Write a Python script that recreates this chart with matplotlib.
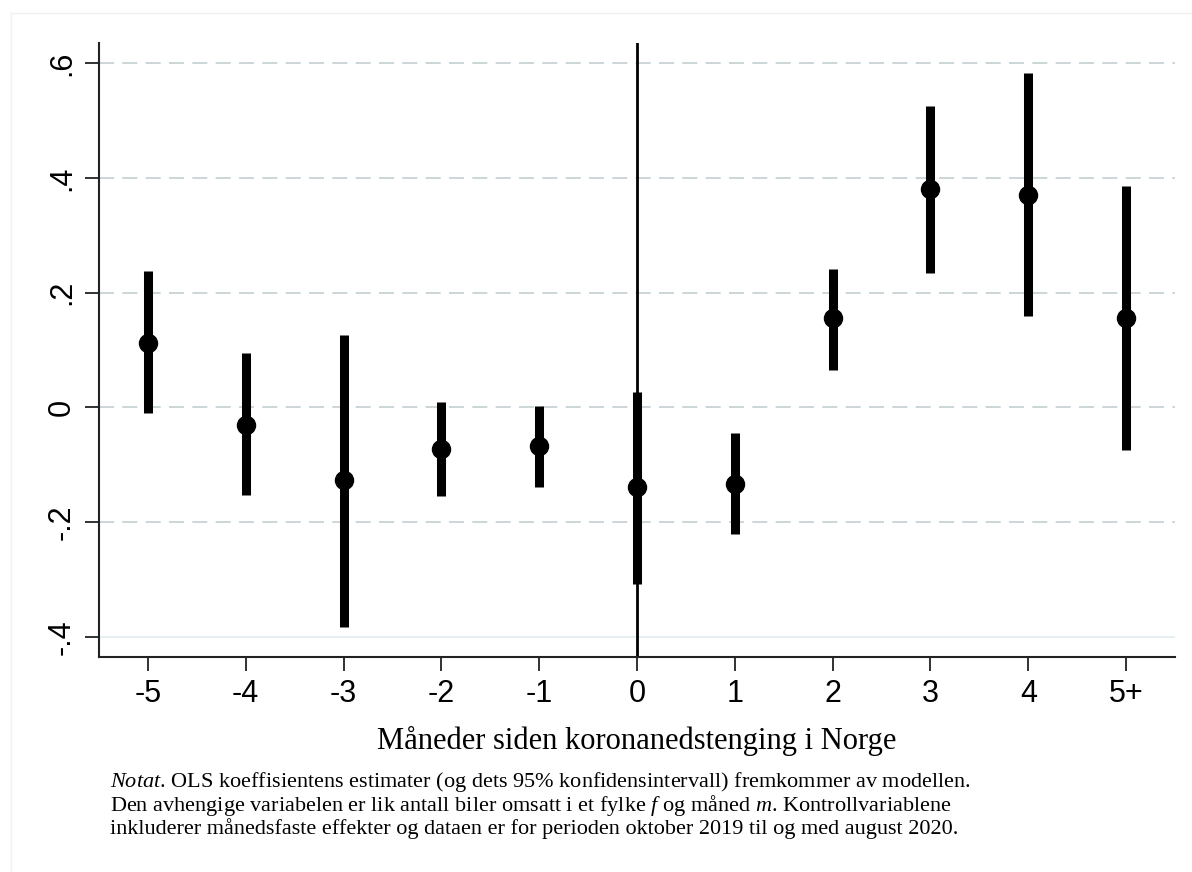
import matplotlib
matplotlib.use("Agg")
import matplotlib.pyplot as plt
from matplotlib.lines import Line2D
import numpy as np

# Data
months = ["-5", "-4", "-3", "-2", "-1", "0", "1", "2", "3", "4", "5+"]
estimate = [0.113, -0.030, -0.127, -0.073, -0.068, -0.139, -0.134, 0.155, 0.380, 0.370, 0.156]
ci_low = [-0.009, -0.153, -0.382, -0.155, -0.139, -0.307, -0.221, 0.066, 0.235, 0.159, -0.075]
ci_high = [0.238, 0.094, 0.127, 0.009, 0.002, 0.026, -0.045, 0.242, 0.526, 0.582, 0.386]
yticks = [-0.4, -0.2, 0.0, 0.2, 0.4, 0.6]
ytick_labels = ["-.4", "-.2", "0", ".2", ".4", ".6"]
note_lines = [
    r"$\it{Notat}$. OLS koeffisientens estimater (og dets 95% konfidensintervall) fremkommer av modellen.",
    r"Den avhengige variabelen er lik antall biler omsatt i et fylke $\it{f}$ og måned $\it{m}$. Kontrollvariablene",
    "inkluderer månedsfaste effekter og dataen er for perioden oktober 2019 til og med august 2020.",
]

plt.rcParams["mathtext.fontset"] = "custom"
plt.rcParams["mathtext.rm"] = "Liberation Serif"
plt.rcParams["mathtext.it"] = "Liberation Serif:italic"

W, H = 1192, 872
fig = plt.figure(figsize=(W / 100, H / 100), dpi=100)
ax = fig.add_axes([99 / W, 1 - 657 / H, (1175 - 99) / W, (657 - 43) / H])

x = np.arange(-5, len(months) - 5)

# grid lines
for yt in yticks:
    if yt == -0.4:
        ax.axhline(yt, color="#e4eef0", lw=1.3, zorder=0)
    else:
        ax.axhline(yt, color="#c4d0d2", lw=1.2, ls=(0, (9, 5)), zorder=0)

ax.axvline(0, color="black", lw=2, zorder=1)

ax.vlines(x, ci_low, ci_high, color="black", lw=6.5, zorder=2)
ax.plot(x, estimate, "o", color="black", markersize=13, zorder=3)

ax.set_xlim(-5.5, 5.5)
ax.set_ylim(-0.435, 0.635)
ax.set_xticks(x)
ax.set_xticklabels(months, fontsize=22, family="Liberation Sans")
ax.set_yticks(yticks)
ax.set_yticklabels(ytick_labels, fontsize=22, family="Liberation Sans",
                   rotation=90, va="center")
ax.tick_params(axis="both", direction="out", length=10, width=1.3, color="#222222")
ax.tick_params(axis="x", pad=6)
ax.tick_params(axis="y", pad=6)
for s in ["top", "right"]:
    ax.spines[s].set_visible(False)
for s in ["left", "bottom"]:
    ax.spines[s].set_linewidth(1.5)
    ax.spines[s].set_color("#222222")

ax.set_xlabel("Måneder siden koronanedstenging i Norge", fontsize=22,
              family="Liberation Serif", labelpad=12)

fig.text(110 / W, 1 - 770 / H, "\n".join(note_lines), fontsize=16,
         family="Liberation Serif", va="top", ha="left", linespacing=0.96)

# faint frame (left and top edges)
fig.lines.append(Line2D([11 / W, 11 / W], [0, 1 - 13 / H], transform=fig.transFigure,
                        color="#f0f0f0", lw=1))
fig.lines.append(Line2D([11 / W, 1], [1 - 13 / H, 1 - 13 / H], transform=fig.transFigure,
                        color="#f0f0f0", lw=1))

fig.savefig("out.png", dpi=100)
